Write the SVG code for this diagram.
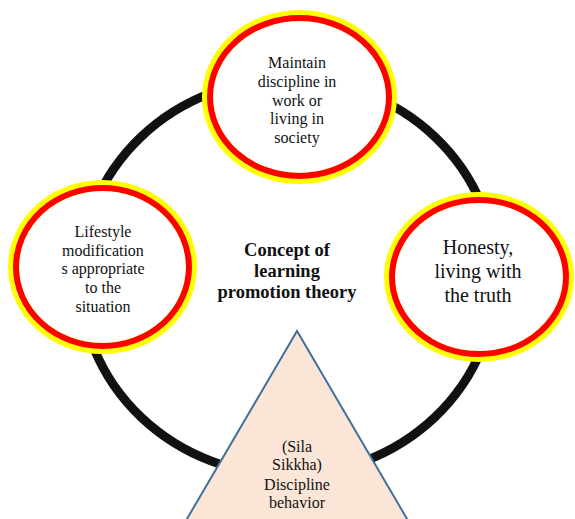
<svg xmlns="http://www.w3.org/2000/svg" width="575" height="519" viewBox="0 0 575 519">
<style>
.ring{fill:none;stroke:#111111;stroke-width:9}
.outer{fill:#ffffff;stroke:#ffff00;stroke-width:11}
.inner{fill:none;stroke:#ff0000;stroke-width:6}
.t{font-family:"Liberation Serif","Times New Roman",serif;font-size:16px;fill:#111111;text-anchor:middle}
.big{font-size:20px}
.b{font-weight:bold;font-size:18.5px}
.tri{fill:#fbe5d6;stroke:#41719c;stroke-width:2}
</style>
<rect width="575" height="519" fill="#ffffff"/>
<g id="connectors">
<ellipse class="ring" cx="288" cy="277" rx="208" ry="198"/>
</g>
<g id="center">
<text class="t b" x="287" y="256">Concept of</text>
<text class="t b" x="287" y="277">learning</text>
<text class="t b" x="287" y="298">promotion theory</text>
</g>
<g id="top">
<ellipse class="outer" cx="299.5" cy="97" rx="92" ry="81.5"/>
<ellipse class="inner" cx="299.5" cy="97" rx="89.5" ry="79"/>
<text class="t" x="297" y="68">Maintain</text>
<text class="t" x="297" y="87">discipline in</text>
<text class="t" x="297" y="106">work or</text>
<text class="t" x="297" y="124">living in</text>
<text class="t" x="297" y="143">society</text>
</g>
<g id="left">
<ellipse class="outer" cx="102.5" cy="267" rx="89" ry="81.5"/>
<ellipse class="inner" cx="102.5" cy="267" rx="86.5" ry="79"/>
<text class="t" x="103" y="237">Lifestyle</text>
<text class="t" x="103" y="256">modification</text>
<text class="t" x="103" y="274">s appropriate</text>
<text class="t" x="103" y="293">to the</text>
<text class="t" x="103" y="312">situation</text>
</g>
<g id="right">
<ellipse class="outer" cx="479" cy="277" rx="89.5" ry="79.5"/>
<ellipse class="inner" cx="479" cy="277" rx="87" ry="77"/>
<text class="t big" x="478" y="254">Honesty,</text>
<text class="t big" x="478" y="278">living with</text>
<text class="t big" x="478" y="302">the truth</text>
</g>
<g id="triangle">
<polygon class="tri" points="297,331 174,541 420,541"/>
<text class="t" x="297" y="452">(Sila</text>
<text class="t" x="297" y="470">Sikkha)</text>
<text class="t" x="297" y="490">Discipline</text>
<text class="t" x="297" y="508">behavior</text>
</g>
</svg>
